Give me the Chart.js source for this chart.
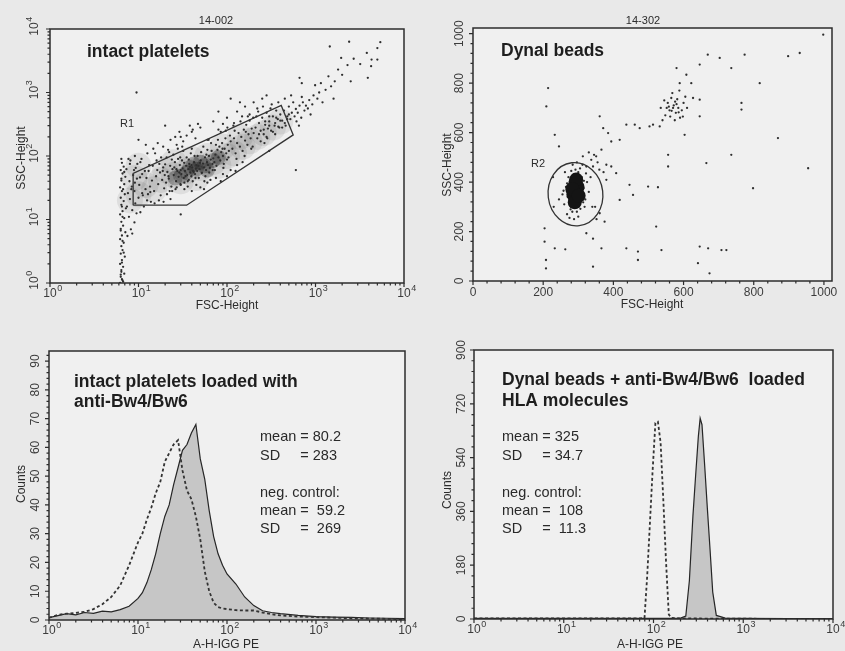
<!DOCTYPE html>
<html><head><meta charset="utf-8">
<script src="https://cdn.jsdelivr.net/npm/chart.js@4.4.1/dist/chart.umd.min.js"></script>
<style>
html,body{margin:0;padding:0;background:#e9e9e9;}
#wrap{position:relative;width:845px;height:651px;overflow:hidden;background:#e9e9e9;}
canvas{position:absolute;left:0;top:0;}
</style></head><body><div id="wrap">
<canvas id="tl" width="845" height="651"></canvas>
<canvas id="tr" width="845" height="651"></canvas>
<canvas id="bl" width="845" height="651"></canvas>
<canvas id="br" width="845" height="651"></canvas>
</div>
<script>
// ---------------- tick labels ----------------
const LOG_TICKS = [1, 10, 100, 1000, 10000];
const LOG_TICK_EXPONENTS = ['0', '1', '2', '3', '4'];
const FSC_LINEAR_TICKS = [0, 200, 400, 600, 800, 1000];
const PLATELET_COUNT_TICKS = [0, 10, 20, 30, 40, 50, 60, 70, 80, 90];
const BEAD_COUNT_TICKS = [0, 180, 360, 540, 720, 900];

// ---------------- top-left: intact platelets (FSC vs SSC, log/log) ----------------
const plateletThresholdEvents = [
 [6.2,1.0],[6.6,1.1],[6.3,1.25],[6.9,1.4],[6.4,1.6],[6.7,1.8],[6.2,2.0],[6.5,2.3],[7.0,2.6],[6.3,2.9],
 [6.6,3.3],[6.4,3.8],[6.8,4.3],[6.2,4.9],[6.5,5.6],[7.1,6.3],[6.3,7.1],[6.7,8.0],[6.4,9.2],[6.9,10.5],
 [6.2,12],[6.6,13.5],[7.2,15],[6.4,17],[6.8,19.5],[6.3,22],[7.0,25],[6.5,28],[6.2,32],[6.9,36],
 [6.4,41],[7.1,47],[6.6,53],[6.3,60],[6.8,68],[6.5,78],[6.4,90],[6.7,1.05],[6.4,1.5],[6.5,2.1],
 [6.8,3.0],[6.6,4.6],[6.3,6.7],[6.6,11],[6.5,16],[6.7,30],[6.4,44],[6.9,56],[6.5,1.15],[6.3,1.35]
];
const plateletLowEvents = [
 [7.5,5.5],[8.2,7],[9.0,9],[7.8,11],[9.5,12.5],[8.5,14],[10.5,13],[7.4,16],[9.2,18],[11.5,16],
 [8.0,21],[10,22],[12.5,20],[7.6,26],[9.0,28],[11,26],[8.4,33],[10.2,35],[12,30],[7.9,40],
 [9.6,44],[8.7,50],[11,52],[7.3,62],[9.3,65],[8.0,75],[10.5,80],[7.7,90],[9.1,100],[8.5,6],
 [8.3,30],[9.1,38],[10.4,46],[11.8,58],[13.2,72],[8.9,60],[10.8,90],[12.6,110],[14.7,130],[11.2,24],
 [13.6,27],[9.7,75],[8.1,85],[12.1,150],[10,180]
];
const plateletCloudEvents = [
 [12.8,25],[13.5,33],[14.2,41],[15,28],[15.8,48],[16.7,36],[17.5,55],[18.5,42],[19.5,31],[13,58],
 [14.5,70],[16,85],[17.8,24],[19,66],[13.8,19],[15.4,110],[18,95],[12.3,45],[19.8,50],[16.3,60],
 [20.5,38],[21.2,56],[22,44],[22.8,70],[23.5,33],[24.2,62],[25,50],[25.8,80],[26.6,40],[27.5,58],
 [28.4,47],[29.3,72],[20.8,95],[22.5,28],[24.8,105],[26.2,30],[28,90],[29.8,36],[21.6,125],[27,150],
 [23,21],[25.4,66],[28.9,55],[20,74],
 [15.2,18],[17,20],[19.2,19],[21,25],[24,28],[27,32],[30,35],[33,30],[36,40],[16.5,160],
 [19,140],[23,180],[26,200],[29,240],[32,170],[35,210],[38,300],[41,260],[44,190],[47,320],
 [17.2,75],[18.8,58],[21.8,48],[23.8,88],[26.8,62],[29.6,95],[32.8,78],[34,48],[37,88],[39.8,72],
 [22.2,115],[31.2,140],[27.8,130],
 [30.5,52],[31.5,64],[32.5,45],[33.5,58],[34.5,70],[35.5,50],[36.5,62],[37.5,75],[38.5,55],[39.5,48],
 [40.5,66],[41.5,58],[42.5,80],[43.5,52],[44.5,63],[31,85],[33,38],[35,95],[37,42],[39,110],
 [41,40],[43,100],[45,72],[32,120],[36,33],[40,130],[44,45],[30,60],[38,68],[42,56],
 [46,58],[47.5,70],[49,62],[50.5,85],[52,54],[53.5,76],[55,66],[56.5,95],[58,60],[59.5,80],
 [61,72],[62.5,100],[64,65],[65.5,88],[67,120],[68.5,75],[70,92],[48,45],[51,115],[54,140],
 [57,48],[60,125],[63,55],[66,160],[69,60],[46.5,100],[55.5,40],[62,180],[49.5,78],[58.5,105],
 [40,28],[50,32],[60,38],[75,45],[90,52],[110,60],[130,72],[150,80],[55,30],[85,40],[45,35],[65,42],[100,48],[125,58],
 [72,80],[74,105],[76,70],[78,125],[80,95],[82,140],[84,85],[86,115],[88,160],[90,100],
 [92,75],[94,130],[96,190],[98,110],[100,88],[102,150],[105,120],[108,210],[73,60],[79,180],
 [85,240],[91,65],[97,250],[104,95],[110,170],[75,150],[89,130],[101,280],
 [30,200],[50,280],[70,350],[100,400],[130,500],[160,600],[200,700],[250,800],[80,260],[120,330],
 [180,450],[220,560],[60,180],[90,320],[140,700],[280,900],[40,240],[110,800],
 [115,130],[120,190],[125,110],[130,160],[135,230],[140,140],[145,200],[150,120],[155,260],[160,175],
 [165,310],[170,150],[175,220],[180,360],[185,190],[190,270],[195,140],[200,230],[118,300],[128,90],
 [142,350],[158,100],[172,420],[188,130],[122,250],[148,420],[163,240],[198,400],
 [210,280],[220,190],[230,330],[240,250],[250,400],[260,220],[270,310],[280,480],[290,270],[300,350],
 [315,250],[330,420],[345,300],[360,520],[375,380],[390,280],[400,450],[225,500],[255,600],[285,190],
 [320,650],[350,220],[380,700],[215,420],[265,160],[310,560],
 [230,220],[260,260],[300,300],[350,330],[400,360],[450,330],[280,200],[330,240],[380,290],[420,280],
 [480,380],[240,170],[360,400],[300,420],[500,450],[270,350],
 [420,360],[440,520],[460,300],[480,420],[500,600],[520,380],[540,480],[560,700],[580,420],[600,550],
 [630,480],[660,620],[690,400],[720,700],[750,520],[780,620],[450,800],[530,900],[610,350],[700,850],[650,300]
];
const plateletTailEvents = [
 [820,560],[850,760],[880,450],[920,650],[950,900],[990,1300],[1050,800],[1100,1000],[1150,1400],[1200,700],
 [1300,1100],[1400,1800],[1500,1250],[1650,1500],[1800,2300],[2000,1900],[2300,2700],[2700,3400],[3200,2800],[3800,4200],
 [4300,3300],[5000,5000],[5400,6200],[1450,5300],[2400,6300],[1950,3500],[5000,3300],[4250,2600],[3900,1700],[660,1700],
 [700,1400],[2500,1500],[1600,800],[9.5,1000],[30,12],[600,60],[20,300],[80,500],[300,120]
];
const plateletDenseCore = [[35,55],[45,62],[55,70],[42,75],[60,60],[30,48],[70,85],[50,80],[38,66],[26,45],[80,95]];
const plateletHaze = [[12,35],[18,42],[25,50],[35,58],[50,65],[70,80],[100,100],[150,140],[220,200],[330,280],[8,20],[9,45],
 [15,30],[20,60],[30,40],[40,90],[60,100],[80,70],[120,110],[180,170],[260,230],[400,350],[10,25],[10,70],[25,80],[45,45],[90,140],[140,200]];
const gateR1 = [[8.7,16.8],[35,16.8],[560,215],[410,625],[8.7,53],[8.7,16.8]];

// ---------------- top-right: Dynal beads (FSC vs SSC, linear) ----------------
const beadCoreEvents = [
 [292,355],[285,340],[298,370],[280,320],[305,390],[290,300],[300,410],[275,360],[310,350],[288,385],
 [295,330],[282,400],[303,315],[270,340],[315,375],[286,430],[296,280],[278,290],[310,420],[265,380],
 [320,330],[292,450],[300,260],[260,310],[325,400],[284,470],[272,420],[318,300],[255,350],[330,360],
 [305,455],[268,270],[288,250],[335,420],[245,330],[312,470],[262,440],[340,300],[296,480],[275,255],
 [268,395],[316,405],[276,305],[314,318],[300,440],[283,280],[322,435],[258,365],[306,292],[280,445]
];
const beadScatterEvents = [
 [214,780],[209,706],[233,591],[245,544],[204,213],[204,159],[233,132],[263,128],[208,85],[208,51],
 [361,666],[371,618],[385,598],[394,564],[418,571],[437,632],[461,632],[475,618],[503,625],[532,625],
 [313,504],[337,490],[351,504],[366,531],[323,463],[342,463],[394,463],[408,436],[380,409],[418,328],
 [446,389],[456,348],[499,382],[527,379],[361,274],[375,240],[323,193],[342,171],[366,132],[342,58],
 [437,132],[470,119],[470,85],[522,220],[537,125],[646,139],[670,132],[708,125],[641,72],[674,31],
 [580,861],[608,834],[622,800],[646,875],[669,915],[703,902],[736,861],[774,915],[898,909],[931,922],
 [998,996],[817,800],[765,720],[765,693],[869,578],[955,456],[665,477],[736,510],[798,375],[722,125],
 [556,463],[556,510],[603,591],[646,666],[627,740],[646,733],[589,800],[513,632],
 [330,520],[345,510],[355,480],[360,450],[372,440],[380,470],[348,300],[352,250],[230,300],[228,420]
];
const beadDoubletEvents = [
 [560,690],[572,710],[548,670],[585,700],[565,740],[590,660],[555,720],[578,680],[600,720],[540,650],
 [568,760],[595,690],[582,735],[552,700],[610,700],[575,650],[545,730],[588,770],[562,665],[605,745],
 [570,700],[535,700],[598,665],[580,715],[566,688],[576,725],[558,705],[586,682]
];
const beadDenseCore = [[292,335],[292,365],[292,395],[286,350],[298,380],[290,318],[294,410],[283,372],[301,345]];
const gateR2 = [292, 351, 78, 128]; // centre x, centre y, half-width, half-height (data units)

// ---------------- bottom-left: platelets histogram ----------------
const plateletBins = [1,1.26,1.58,2.0,2.51,3.16,3.98,5.01,6.31,7.94,
 10,11.2,12.6,14.1,15.8,17.8,20.0,22.4,25.1,28.2,
 31.6,35.5,39.8,44.7,50.1,56.2,63.1,70.8,79.4,89.1,
 100,126,158,200,251,316,398,631,1000,1585,
 2512,3981,6310,10000];
const plateletStained = [0.8,1.5,2.2,1.8,2.6,2.3,3.1,2.8,3.6,4.8,
 7.5,9.5,13,17.5,23,30,36,40,47,53,
 59,61,65,68,56,49,38,29,23,19,
 16,12.5,8,5,3.2,2.6,2.2,1.6,1.2,1.0,
 0.9,0.7,0.6,0.5];
const plateletControl = [0.8,1.8,2.2,2.5,2.8,3.8,5.5,8,12,19,
 27,30,35,39,44,48,55,58,61,62.5,
 52,45,42,36,28,17,10,6,4.5,4,
 3.8,3.4,3.3,3.3,2.6,2.0,1.6,1.2,1.0,0.8,
 0.6,0.5,0.4,0.3];

// ---------------- bottom-right: beads histogram ----------------
const beadBins = [1,3.16,10,31.6,63.1,70.8,79.4,85.1,91.2,97.7,
 105,112,120,129,138,148,158,200,229,251,
 275,295,316,331,347,372,398,427,457,501,
 631,1000,3162,10000];
const beadStained = [2,2,2,2,2,2,2,2,2,2,
 2,2,2,2,2,2,2,3,10,128,
 345,482,611,672,650,512,371,231,90,12,
 3,2,1,1];
const beadControl = [2,2,2,2,2,2,3,145,320,495,
 656,660,590,390,190,15,4,2,2,2,
 2,2,2,2,1,1,1,1,1,1,
 1,1,0,0];

// ---------------- texts ----------------
const statsPlatelets = {mean:'80.2', sd:'283', ctrlMean:'59.2', ctrlSd:'269'};
const statsBeads = {mean:'325', sd:'34.7', ctrlMean:'108', ctrlSd:'11.3'};

// ================= drawing =================
const FONT = "'Liberation Sans', Arial, sans-serif";
const INK = '#2c2c2c';
const TICK_INK = '#3c3c3c';
const PLOT_BG = '#f0f0f0';

function statLines(x0, s) {
  return [
    {a:'mean', b:'= ' + s.mean, y:437},
    {a:'SD', b:'= ' + s.sd, y:456},
    {a:'neg. control:', b:null, y:493},
    {a:'mean', b:'=  ' + s.ctrlMean, y:511},
    {a:'SD', b:'=  ' + s.ctrlSd, y:529}
  ].map(o => Object.assign({x:x0}, o));
}

const panelSpecs = {
  tl: {area:[50,29,404,283], xAxis:{kind:'log'}, yAxis:{kind:'log'},
       xLabelDy:11, yLabelDx:15, xTitle:'FSC-Height', xTitlePos:[227,306], yTitle:'SSC-Height', yTitlePos:[22,158],
       header:'14-002', headerPos:[216,21],
       bold:[{t:'intact platelets', x:87, y:52}], small:[{t:'R1', x:127, y:124}]},
  tr: {area:[473,28,832,281], xAxis:{kind:'lin', major:FSC_LINEAR_TICKS, step:40, max:1000}, yAxis:{kind:'lin', major:FSC_LINEAR_TICKS, step:40, max:1000},
       xLabelDy:12, yLabelDx:13, xTitle:'FSC-Height', xTitlePos:[652,305], yTitle:'SSC-Height', yTitlePos:[448,165],
       header:'14-302', headerPos:[643,21],
       bold:[{t:'Dynal beads', x:501, y:51}], small:[{t:'R2', x:538, y:164}], ellipse:gateR2},
  bl: {area:[49,351,405,620], xAxis:{kind:'log'}, yAxis:{kind:'lin', major:PLATELET_COUNT_TICKS, step:2, max:92},
       xLabelDy:11, yLabelDx:13, xTitle:'A-H-IGG PE', xTitlePos:[226,645], yTitle:'Counts', yTitlePos:[22,484],
       bold:[{t:'intact platelets loaded with', x:74, y:382},{t:'anti-Bw4/Bw6', x:74, y:402}],
       stats:statLines(260, statsPlatelets)},
  br: {area:[474,350,833,619], xAxis:{kind:'log'}, yAxis:{kind:'lin', major:BEAD_COUNT_TICKS, step:36, max:900},
       xLabelDy:11, yLabelDx:12, xTitle:'A-H-IGG PE', xTitlePos:[650,645], yTitle:'Counts', yTitlePos:[448,490],
       bold:[{t:'Dynal beads + anti-Bw4/Bw6  loaded', x:502, y:380},{t:'HLA molecules', x:502, y:401}],
       stats:statLines(502, statsBeads)}
};

function tickSet(ax) {
  if (ax.kind === 'log') {
    const minor = [];
    LOG_TICKS.slice(0, -1).forEach(d => { for (let k = 2; k <= 9; k++) minor.push(d * k); });
    return {major: LOG_TICKS, minor, labels: LOG_TICKS.map((v, i) => ['10', LOG_TICK_EXPONENTS[i]])};
  }
  const minor = [];
  for (let v = ax.step; v <= ax.max + 1e-9; v += ax.step) if (!ax.major.includes(Math.round(v*1000)/1000)) minor.push(v);
  return {major: ax.major, minor, labels: ax.major.map(v => [String(v), null])};
}

function drawLabel(ctx, txt, exp, x, y, rotate) {
  ctx.save();
  ctx.translate(x, y);
  if (rotate) ctx.rotate(-Math.PI / 2);
  ctx.fillStyle = TICK_INK; ctx.textBaseline = 'middle'; ctx.textAlign = 'left';
  ctx.font = '12px ' + FONT;
  const wb = ctx.measureText(txt).width;
  ctx.fillText(txt, -wb / 2, 0);
  if (exp) { ctx.font = '9px ' + FONT; ctx.fillText(exp, wb / 2 + 0.5, -5); }
  ctx.restore();
}

const facsPlugin = {
  id: 'facs',
  beforeDatasetsDraw(chart) {
    const {ctx, chartArea: a} = chart;
    ctx.save(); ctx.fillStyle = PLOT_BG; ctx.fillRect(a.left, a.top, a.right - a.left, a.bottom - a.top); ctx.restore();
  },
  afterDatasetsDraw(chart) {
    const spec = panelSpecs[chart.canvas.id];
    const ctx = chart.ctx, a = chart.chartArea, xs = chart.scales.x, ys = chart.scales.y;
    ctx.save();
    if (spec.ellipse) {
      const [cx, cy, rx, ry] = spec.ellipse;
      const px = xs.getPixelForValue(cx), py = ys.getPixelForValue(cy);
      const prx = Math.abs(xs.getPixelForValue(cx + rx) - px), pry = Math.abs(ys.getPixelForValue(cy + ry) - py);
      ctx.beginPath(); ctx.ellipse(px, py, prx, pry, -0.12, 0, Math.PI * 2);
      ctx.strokeStyle = '#333'; ctx.lineWidth = 1.3; ctx.stroke();
    }
    // frame
    ctx.strokeStyle = INK; ctx.lineWidth = 1.5;
    ctx.strokeRect(a.left, a.top, a.right - a.left, a.bottom - a.top);
    // ticks
    ctx.lineWidth = 1.2; ctx.strokeStyle = INK;
    const xt = tickSet(spec.xAxis), yt = tickSet(spec.yAxis);
    ctx.beginPath();
    xt.major.forEach(v => { const p = xs.getPixelForValue(v); ctx.moveTo(p, a.bottom); ctx.lineTo(p, a.bottom + 4); });
    xt.minor.forEach(v => { const p = xs.getPixelForValue(v); ctx.moveTo(p, a.bottom); ctx.lineTo(p, a.bottom + 2.5); });
    yt.major.forEach(v => { const p = ys.getPixelForValue(v); ctx.moveTo(a.left, p); ctx.lineTo(a.left - 4, p); });
    yt.minor.forEach(v => { const p = ys.getPixelForValue(v); ctx.moveTo(a.left, p); ctx.lineTo(a.left - 2.5, p); });
    ctx.stroke();
    // tick labels
    xt.major.forEach((v, i) => drawLabel(ctx, xt.labels[i][0], xt.labels[i][1], xs.getPixelForValue(v), a.bottom + spec.xLabelDy, false));
    yt.major.forEach((v, i) => drawLabel(ctx, yt.labels[i][0], yt.labels[i][1], a.left - spec.yLabelDx, ys.getPixelForValue(v), true));
    // axis titles
    ctx.fillStyle = INK; ctx.font = '12px ' + FONT; ctx.textAlign = 'center'; ctx.textBaseline = 'middle';
    ctx.fillText(spec.xTitle, spec.xTitlePos[0], spec.xTitlePos[1]);
    ctx.save(); ctx.translate(spec.yTitlePos[0], spec.yTitlePos[1]); ctx.rotate(-Math.PI / 2);
    ctx.fillText(spec.yTitle, 0, 0); ctx.restore();
    if (spec.header) { ctx.font = '11px ' + FONT; ctx.fillText(spec.header, spec.headerPos[0], spec.headerPos[1]); }
    ctx.textAlign = 'left';
    (spec.small || []).forEach(o => { ctx.font = '11px ' + FONT; ctx.fillText(o.t, o.x - 7, o.y); });
    ctx.fillStyle = '#1e1e1e';
    (spec.bold || []).forEach(o => { ctx.font = 'bold 17.5px ' + FONT; ctx.fillText(o.t, o.x, o.y); });
    ctx.fillStyle = '#2a2a2a'; ctx.font = '14.5px ' + FONT;
    const eqX = ctx.measureText('mean ').width;
    (spec.stats || []).forEach(o => {
      ctx.fillText(o.a, o.x, o.y);
      if (o.b) ctx.fillText(o.b, o.x + eqX, o.y);
    });
    ctx.restore();
  }
};

function makeChart(id, type, datasets, xScale, yScale) {
  const [l, t, r, b] = panelSpecs[id].area;
  return new Chart(document.getElementById(id), {
    type,
    data: {datasets},
    options: {
      responsive: false, animation: false, events: [],
      layout: {padding: {left: l, top: t, right: 845 - r, bottom: 651 - b}},
      plugins: {legend: {display: false}, tooltip: {enabled: false}},
      scales: {x: Object.assign({display: false}, xScale), y: Object.assign({display: false}, yScale)}
    },
    plugins: [facsPlugin]
  });
}

const dot = (data, color, r) => ({data, pointRadius: r, pointBackgroundColor: color, pointBorderWidth: 0, showLine: false});
const histPts = (bins, counts) => bins.map((b, i) => ({x: b, y: counts[i]}));

makeChart('tl', 'scatter', [
  {data: gateR1, showLine: true, pointRadius: 0, borderColor: '#333', borderWidth: 1.3, fill: false},
  dot(plateletThresholdEvents.concat(plateletLowEvents, plateletCloudEvents, plateletTailEvents), '#2e2e2e', 1.15),
  dot(plateletDenseCore, 'rgba(20,20,20,0.27)', 7.5),
  dot(plateletHaze, 'rgba(40,40,40,0.09)', 13)
], {type: 'logarithmic', min: 1, max: 10000}, {type: 'logarithmic', min: 1, max: 10000});

makeChart('tr', 'scatter', [
  dot(beadDenseCore, '#141414', 7),
  dot(beadCoreEvents.concat(beadScatterEvents, beadDoubletEvents), '#2e2e2e', 1.15)
], {type: 'linear', min: 0, max: 1023}, {type: 'linear', min: 0, max: 1023});

makeChart('bl', 'line', [
  {data: histPts(plateletBins, plateletControl), borderColor: '#333', borderWidth: 1.8, borderDash: [3, 2.5], pointRadius: 0, fill: false, tension: 0},
  {data: histPts(plateletBins, plateletStained), borderColor: '#262626', borderWidth: 1.2, backgroundColor: '#c6c6c6', pointRadius: 0, fill: 'origin', tension: 0}
], {type: 'logarithmic', min: 1, max: 10000}, {type: 'linear', min: 0, max: 93.5});

makeChart('br', 'line', [
  {data: histPts(beadBins, beadControl), borderColor: '#333', borderWidth: 1.8, borderDash: [3, 2.5], pointRadius: 0, fill: false, tension: 0},
  {data: histPts(beadBins, beadStained), borderColor: '#262626', borderWidth: 1.2, backgroundColor: '#c6c6c6', pointRadius: 0, fill: 'origin', tension: 0}
], {type: 'logarithmic', min: 1, max: 10000}, {type: 'linear', min: 0, max: 900});
</script>
</body></html>
